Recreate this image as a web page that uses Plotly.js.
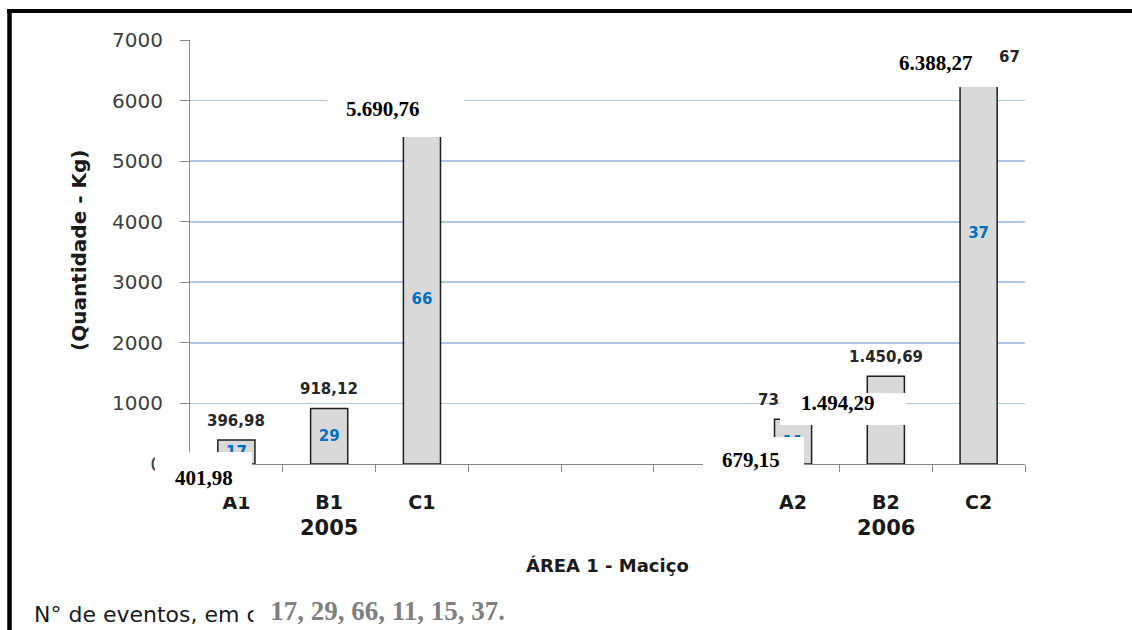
<!DOCTYPE html>
<html><head><meta charset="utf-8">
<script src="https://cdn.plot.ly/plotly-3.0.1.min.js"></script>
<style>html,body{margin:0;padding:0;background:#fff;}#chart{width:1132px;height:630px;}</style>
</head><body><div id="chart"></div>
<script>
// ---- data ----
const categories = ['A1', 'B1', 'C1', 'A2', 'B2', 'C2'];
const axisSlots = ['A1', 'B1', 'C1', ' ', '  ', '   ', 'A2', 'B2', 'C2'];
const years = ['2005', '2006'];
const yearAnchor = ['B1', 'B2'];
const kgValues = [396.98, 918.12, 5450, 738, 1450.69, 7630];
const kgLabels = ['396,98', '918,12', '', '73', '1.450,69', '67'];
const eventCounts = [17, 29, 66, 11, 15, 37];
const overlayLabels = ['401,98', '5.690,76', '679,15', '1.494,29', '6.388,27'];
const footLabel = 'N° de eventos, em c';
const footValues = '17, 29, 66, 11, 15, 37.';
const xTitle = 'ÁREA 1 - Maciço';
const yTitle = '(Quantidade - Kg)';
const yMax = 7000;

// ---- layout helpers (pixel -> paper) ----
const W = 1132, H = 630, L = 190, R = 107, T = 40, B = 166;
const PW = W - L - R, PH = H - T - B, BASE = H - B;
const px = x => (x - L) / PW;
const py = y => (BASE - y) / PH;
const SANS = 'DejaVu Sans';
const SERIF = 'Liberation Serif';

// white patches and overlay texts (pixel boxes)
const patches = [
  {x0: 155, x1: 252, y0: 452, y1: 497, tx: 204, ty: 478},
  {x0: 327, x1: 464, y0: 82, y1: 137, tx: 383, ty: 109},
  {x0: 703, x1: 804, y0: 437, y1: 484, tx: 751, ty: 460},
  {x0: 780, x1: 906, y0: 393, y1: 425, tx: 838, ty: 403},
  {x0: 879, x1: 998, y0: 33, y1: 87, tx: 936, ty: 63}
];
const labelStyle = [{}, {}, {}, {xanchor: 'right', xshift: -12}, {}, {xanchor: 'left', xshift: 18}];

const trace = {
  type: 'bar',
  x: categories,
  y: kgValues,
  width: 0.4,
  text: eventCounts.map(String),
  textposition: 'inside',
  insidetextanchor: 'middle',
  textangle: 0,
  constraintext: 'none',
  textfont: {family: SANS, size: 15, color: '#0070c0', weight: 'bold'},
  marker: {color: '#d9d9d9', line: {color: '#1f1f1f', width: 1.5}},
  hoverinfo: 'none'
};

const annotations = [];
categories.forEach((c, i) => {
  if (!kgLabels[i]) return;
  const clipped = kgValues[i] > yMax;
  const st = labelStyle[i];
  annotations.push({
    x: c, y: Math.min(kgValues[i], yMax), xref: 'x', yref: 'y',
    text: kgLabels[i], showarrow: false,
    xanchor: st.xanchor || 'center', xshift: st.xshift || 0,
    yanchor: 'middle', yshift: clipped ? -17 : 19,
    font: {family: SANS, size: 15, color: '#262626', weight: 'bold'}
  });
});
years.forEach((yr, i) => {
  annotations.push({
    x: yearAnchor[i], xref: 'x', y: py(528), yref: 'paper', text: yr, showarrow: false,
    xanchor: 'center', yanchor: 'middle',
    font: {family: SANS, size: 21, color: '#1a1a1a', weight: 'bold'}
  });
});
annotations.push({
  x: px(607), y: py(565), xref: 'paper', yref: 'paper', text: xTitle, showarrow: false,
  xanchor: 'center', yanchor: 'middle',
  font: {family: SANS, size: 18, color: '#1a1a1a', weight: 'bold'}
});
annotations.push({
  x: px(79), y: py(251), xref: 'paper', yref: 'paper', text: yTitle, showarrow: false,
  textangle: -90, xanchor: 'center', yanchor: 'middle',
  font: {family: SANS, size: 20, color: '#1a1a1a', weight: 'bold'}
});
annotations.push({
  x: px(32), y: py(614), xref: 'paper', yref: 'paper', text: footLabel, showarrow: false,
  xanchor: 'left', yanchor: 'middle',
  font: {family: SANS, size: 22, color: '#1a1a1a'}
});
annotations.push({
  x: px(253), y: py(611), xref: 'paper', yref: 'paper',
  text: '\u2009\u2009\u2009' + footValues, showarrow: false,
  xanchor: 'left', yanchor: 'middle', bgcolor: '#ffffff', borderpad: 0,
  font: {family: SERIF, size: 27, color: '#7f7f7f', weight: 'bold'}
});
patches.forEach((p, i) => {
  annotations.push({
    x: px(p.tx), y: py(p.ty), xref: 'paper', yref: 'paper', text: overlayLabels[i], showarrow: false,
    xanchor: 'center', yanchor: 'middle',
    font: {family: SERIF, size: 21, color: '#000000', weight: 'bold'}
  });
});

const shapes = patches.map(p => ({
  type: 'rect', xref: 'paper', yref: 'paper', layer: 'above',
  x0: px(p.x0), x1: px(p.x1), y0: py(p.y1), y1: py(p.y0),
  fillcolor: '#ffffff', line: {width: 0}
}));
shapes.push({type: 'line', xref: 'paper', yref: 'paper', layer: 'above',
  x0: px(7), x1: px(1132), y0: py(11), y1: py(11), line: {color: '#000', width: 4}});
shapes.push({type: 'line', xref: 'paper', yref: 'paper', layer: 'above',
  x0: px(9.5), x1: px(9.5), y0: py(9), y1: py(630), line: {color: '#000', width: 4.5}});

const layout = {
  width: W, height: H,
  margin: {l: L, r: R, t: T, b: B, pad: 0},
  paper_bgcolor: '#ffffff', plot_bgcolor: '#ffffff',
  showlegend: false,
  barmode: 'overlay',
  xaxis: {
    type: 'category', categoryorder: 'array', categoryarray: axisSlots,
    range: [-0.5, 8.5], tickson: 'boundaries', ticks: 'outside', ticklen: 7,
    tickcolor: '#868686', showline: true, linecolor: '#868686', linewidth: 1,
    showgrid: false, zeroline: false, fixedrange: true,
    ticklabelstandoff: 21,
    tickfont: {family: SANS, size: 19, color: '#1a1a1a', weight: 'bold'}
  },
  yaxis: {
    range: [0, yMax], dtick: 1000, tick0: 0, tickformat: 'd',
    ticks: 'outside', ticklen: 9, tickcolor: '#868686',
    showline: true, linecolor: '#868686', linewidth: 1,
    showgrid: true, gridcolor: '#aec5ea', gridwidth: 1.6,
    zeroline: false, fixedrange: true, ticklabelstandoff: 13,
    tickfont: {family: SANS, size: 20, color: '#404040'}
  },
  annotations: annotations,
  shapes: shapes
};

Plotly.newPlot('chart', [trace], layout, {displayModeBar: false, staticPlot: true});
</script>
</body></html>
